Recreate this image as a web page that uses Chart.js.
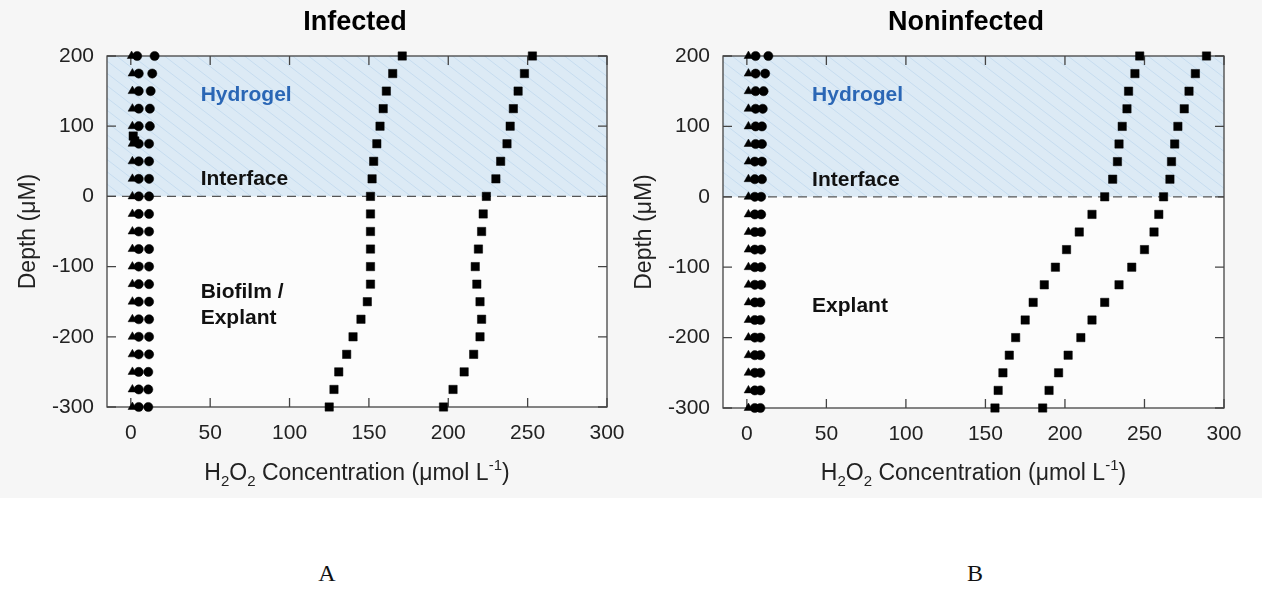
<!DOCTYPE html>
<html><head><meta charset="utf-8">
<script src="https://cdn.jsdelivr.net/npm/chart.js@4.4.0/dist/chart.umd.min.js"></script>
<style>
body{margin:0;background:#fff;width:1262px;height:595px;overflow:hidden;position:relative;font-family:'Liberation Sans',Arial,sans-serif}
#bg{position:absolute;left:0;top:0;width:1262px;height:498px;background:#f6f6f6}
#c1{position:absolute;left:0;top:0}
#c2{position:absolute;left:620px;top:0}
.lab{position:absolute;top:560px;font-family:'Liberation Serif','Times New Roman',serif;font-size:24px;color:#111;transform:translateX(-50%)}
</style></head><body>
<div id="bg"></div>
<canvas id="c1" width="640" height="498"></canvas>
<canvas id="c2" width="642" height="498"></canvas>
<div class="lab" style="left:327px">A</div>
<div class="lab" style="left:975px">B</div>
<script>
// ---- data ----
const depths = [200,175,150,125,100,75,50,25,0,-25,-50,-75,-100,-125,-150,-175,-200,-225,-250,-275,-300];
const xTickValues = [0,50,100,150,200,250,300];
const yTickValues = [-300,-200,-100,0,100,200];

// Infected
const infTriangle = [0.5,1,1,1,1,1,1,1,1,1,1,1,1,1,1,1,1,1,1,1,1];
const infCircleA  = [4,5,5,5,5,5,5,5,5,5,5,5,5,5,5,5,5,5,5,5,5];
const infCircleB  = [15,13.5,12.5,12,12,11.5,11.5,11.5,11.5,11.5,11.5,11.5,11.5,11.5,11.5,11.5,11.5,11.5,11,11,11];
const infSquareA  = [171,165,161,159,157,155,153,152,151,151,151,151,151,151,149,145,140,136,131,128,125];
const infSquareB  = [253,248,244,241,239,237,233,230,224,222,221,219,217,218,220,221,220,216,210,203,197];
const infExtraX   = [1.5,2.5];
const infExtraY   = [86,79];

// Noninfected
const nonTriangle = [1,1,1,1,1,1,1,1,1,1,1,1,1,1,1,1,1,1,1,1,1];
const nonCircleA  = [5.5,5.5,5.5,5.5,5.5,5.5,5,5,5,5,5,5,5,5,5,5,5,5,5,5,5];
const nonCircleB  = [13.5,11.5,10.5,10,9.5,9.5,9.5,9.5,9,9,9,9,9,9,8.5,8.5,8.5,8.5,8.5,8.5,8.5];
const nonSquareA  = [247,244,240,239,236,234,233,230,225,217,209,201,194,187,180,175,169,165,161,158,156];
const nonSquareB  = [289,282,278,275,271,269,267,266,262,259,256,250,242,234,225,217,210,202,196,190,186];

const labelsInf = [
  {text:'Hydrogel', x:44, y:144, color:'#2a66b5'},
  {text:'Interface', x:44, y:24, color:'#111'},
  {text:'Biofilm /', x:44, y:-137, color:'#111'},
  {text:'Explant', x:44, y:-173, color:'#111'}
];
const labelsNon = [
  {text:'Hydrogel', x:41, y:144, color:'#2a66b5'},
  {text:'Interface', x:41, y:24, color:'#111'},
  {text:'Explant', x:41, y:-156, color:'#111'}
];

const FONT = '"Liberation Sans", Arial, sans-serif';

function pts(xs, ys){ return xs.map((v,i)=>({x:v, y:ys[i]})); }

function ds(data, style, radius){
  return {data, pointStyle:style, pointRadius:radius, pointBackgroundColor:'#000',
          pointBorderColor:'#000', pointBorderWidth:0.5, showLine:false, clip:false};
}

function panelPlugin(title, titleX, labels){
  return {
    id:'panel',
    beforeDraw(chart){
      const {ctx, chartArea:a, scales:{x, y}} = chart;
      ctx.save();
      ctx.fillStyle = '#fcfcfc';
      ctx.fillRect(a.left, a.top, a.right-a.left, a.bottom-a.top);
      const yTop = y.getPixelForValue(200), y0 = y.getPixelForValue(0);
      ctx.fillStyle = '#dceaf5';
      ctx.fillRect(a.left, yTop, a.right-a.left, y0-yTop);
      ctx.beginPath(); ctx.rect(a.left, yTop, a.right-a.left, y0-yTop); ctx.clip();
      ctx.strokeStyle = '#c6dcef'; ctx.lineWidth = 1;
      const h = y0 - yTop, dx = h*1.3;
      for(let k = a.left - dx; k < a.right + 20; k += 16){
        ctx.beginPath(); ctx.moveTo(k, yTop); ctx.lineTo(k+dx, y0); ctx.stroke();
      }
      ctx.restore();
    },
    beforeDatasetsDraw(chart){
      const {ctx, chartArea:a, scales:{x, y}} = chart;
      ctx.save();
      const y0 = y.getPixelForValue(0);
      ctx.strokeStyle = '#555'; ctx.lineWidth = 1.3; ctx.setLineDash([9,6]);
      ctx.beginPath(); ctx.moveTo(a.left, y0); ctx.lineTo(a.right, y0); ctx.stroke();
      ctx.setLineDash([]);
      ctx.strokeStyle = '#444'; ctx.lineWidth = 1.3;
      ctx.strokeRect(a.left, a.top, a.right-a.left, a.bottom-a.top);
      const L = 9;
      ctx.beginPath();
      xTickValues.forEach(v=>{
        const px = x.getPixelForValue(v);
        ctx.moveTo(px, a.bottom); ctx.lineTo(px, a.bottom-L);
        ctx.moveTo(px, a.top); ctx.lineTo(px, a.top+L);
      });
      yTickValues.forEach(v=>{
        const py = y.getPixelForValue(v);
        ctx.moveTo(a.left, py); ctx.lineTo(a.left+L, py);
        ctx.moveTo(a.right, py); ctx.lineTo(a.right-L, py);
      });
      ctx.stroke();
      ctx.restore();
    },
    afterDraw(chart){
      const {ctx, chartArea:a, scales:{x, y}} = chart;
      ctx.save();
      ctx.fillStyle = '#000';
      ctx.font = 'bold 27px ' + FONT;
      ctx.textAlign = 'center'; ctx.textBaseline = 'alphabetic';
      ctx.fillText(title, titleX, 30);
      ctx.font = 'bold 21px ' + FONT;
      ctx.textAlign = 'left'; ctx.textBaseline = 'middle';
      labels.forEach(l=>{
        ctx.fillStyle = l.color;
        ctx.fillText(l.text, x.getPixelForValue(l.x), y.getPixelForValue(l.y));
      });
      ctx.fillStyle = '#222';
      ctx.font = '23px ' + FONT;
      ctx.save();
      ctx.translate(a.left - 78, (a.top+a.bottom)/2);
      ctx.rotate(-Math.PI/2);
      ctx.textAlign = 'center'; ctx.textBaseline = 'middle';
      ctx.fillText('Depth (\u03bcM)', 0, 0);
      ctx.restore();
      const segs = [['H',0],['2',1],['O',0],['2',1],[' Concentration (\u03bcmol L',0],['-1',2],[')',0]];
      const big = '23px ' + FONT, small = '15px ' + FONT;
      let w = 0;
      segs.forEach(s=>{ ctx.font = s[1] ? small : big; w += ctx.measureText(s[0]).width; });
      let cx = (a.left + a.right)/2 - w/2;
      const base = 480;
      ctx.textAlign = 'left'; ctx.textBaseline = 'alphabetic';
      segs.forEach(s=>{
        ctx.font = s[1] ? small : big;
        const dy = s[1]===1 ? 6 : (s[1]===2 ? -10 : 0);
        ctx.fillText(s[0], cx, base + dy);
        cx += ctx.measureText(s[0]).width;
      });
      ctx.restore();
    }
  };
}

function makeChart(id, datasets, padding, title, titleX, labels){
  return new Chart(document.getElementById(id), {
    type:'scatter',
    data:{datasets},
    options:{
      responsive:false, animation:false, events:[],
      layout:{padding},
      plugins:{legend:{display:false}, tooltip:{enabled:false}, title:{display:false}},
      scales:{
        x:{type:'linear', min:-15, max:300,
           afterBuildTicks(s){ s.ticks = xTickValues.map(v=>({value:v})); },
           afterFit(s){ s.height = 40; },
           grid:{display:false}, border:{display:false},
           ticks:{color:'#222', font:{family:FONT, size:21}, padding:6, maxRotation:0, autoSkip:false}},
        y:{type:'linear', min:-300, max:200,
           afterBuildTicks(s){ s.ticks = yTickValues.map(v=>({value:v})); },
           afterFit(s){ s.width = 60; },
           grid:{display:false}, border:{display:false},
           ticks:{color:'#222', font:{family:FONT, size:21}, padding:5, autoSkip:false}}
      }
    },
    plugins:[panelPlugin(title, titleX, labels)]
  });
}

makeChart('c1', [
  ds(pts(infExtraX, infExtraY), 'rect', 5.9),
  ds(pts(infSquareA, depths), 'rect', 5.9),
  ds(pts(infSquareB, depths), 'rect', 5.9),
  ds(pts(infTriangle, depths), 'triangle', 5),
  ds(pts(infCircleA, depths), 'circle', 4.6),
  ds(pts(infCircleB, depths), 'circle', 4.6)
], {top:56, left:47, right:33, bottom:51}, 'Infected', 355, labelsInf);

makeChart('c2', [
  ds(pts(nonSquareA, depths), 'rect', 5.9),
  ds(pts(nonSquareB, depths), 'rect', 5.9),
  ds(pts(nonTriangle, depths), 'triangle', 5),
  ds(pts(nonCircleA, depths), 'circle', 4.6),
  ds(pts(nonCircleB, depths), 'circle', 4.6)
], {top:56, left:43, right:38, bottom:50}, 'Noninfected', 346, labelsNon);
</script>
</body></html>
